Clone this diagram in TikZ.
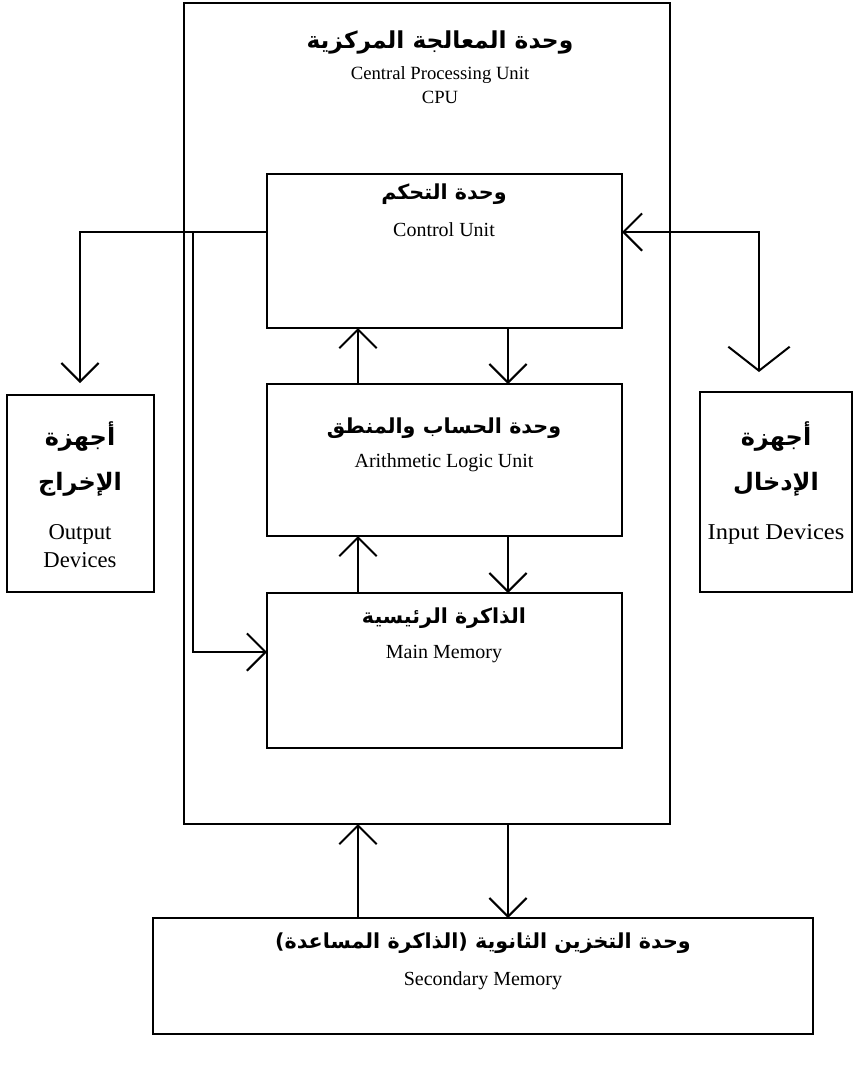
\documentclass[tikz,border=0pt]{standalone}
\usepackage{fontspec}
\setmainfont{Liberation Serif}
\newfontfamily\arabicfont[Script=Arabic]{DejaVu Sans}
\TeXXeTstate=1
\usetikzlibrary{arrows.meta}
\newcommand{\ar}[1]{{\arabicfont\bfseries\beginR #1\endR}}
\begin{document}
\begin{tikzpicture}[x=0.75pt,y=-0.75pt,
  boxline/.style={line width=1.5pt},
  conn/.style={line width=1.5pt},
  vtip/.style={-{Straight Barb[length=14pt,width=28pt,line width=1.5pt]}},
  vtipwide/.style={-{Straight Barb[length=18pt,width=46pt,line width=1.5pt]}},
  eng/.style={font=\fontsize{15}{17}\selectfont},
  engside/.style={font=\fontsize{17}{19}\selectfont},
  arb/.style={font=\fontsize{15.5}{19}\selectfont},
  arbside/.style={font=\fontsize{18}{21}\selectfont}]
\useasboundingbox (0,0) rectangle (855,1072);
% boxes
\draw[boxline] (184,3) rectangle (670,824);
\draw[boxline] (267,174) rectangle (622,328);
\draw[boxline] (267,384) rectangle (622,536);
\draw[boxline] (267,593) rectangle (622,748);
\draw[boxline] (7,395) rectangle (154,592);
\draw[boxline] (700,392) rectangle (852,592);
\draw[boxline] (153,918) rectangle (813,1034);
% named anchors
\coordinate (cpuB1) at (358,824);
\coordinate (cpuB2) at (508,824);
\coordinate (secT1) at (358,918);
\coordinate (secT2) at (508,918);
\coordinate (cuB1) at (358,328);
\coordinate (cuB2) at (508,328);
\coordinate (aluT1) at (358,384);
\coordinate (aluT2) at (508,384);
\coordinate (aluB1) at (358,536);
\coordinate (aluB2) at (508,536);
\coordinate (mmT1) at (358,593);
\coordinate (mmT2) at (508,593);
\coordinate (cuL) at (267,232);
\coordinate (cuR) at (622,232);
\coordinate (split) at (193,232);
\coordinate (mmL) at (267,652);
\coordinate (outT) at (80,383);
\coordinate (inT) at (759,372);
% texts
\node[font=\fontsize{17.5}{21}\selectfont] (t1) at (440,42) {\ar{وحدة المعالجة المركزية}};
\node[font=\fontsize{14}{16}\selectfont] (t2) at (440,75) {Central Processing Unit};
\node[font=\fontsize{14}{16}\selectfont] (t3) at (440,97) {CPU};
\node[arb] (c1) at (444,194) {\ar{وحدة التحكم}};
\node[eng] (c2) at (444,230) {Control Unit};
\node[arb] (a1) at (444,428) {\ar{وحدة الحساب والمنطق}};
\node[eng] (a2) at (444,463) {Arithmetic Logic Unit};
\node[arb] (m1) at (444,618) {\ar{الذاكرة الرئيسية}};
\node[eng] (m2) at (444,654) {Main Memory};
\node[arbside] (o1) at (80,437) {\ar{أجهزة}};
\node[arbside] (o2) at (80,484) {\ar{الإخراج}};
\node[engside] (o3) at (80,534) {Output};
\node[engside] (o4) at (80,560) {Devices};
\node[arbside] (i1) at (776,437) {\ar{أجهزة}};
\node[arbside] (i2) at (776,484) {\ar{الإدخال}};
\node[engside] (i3) at (776,534) {\scalebox{1.08}[1]{Input Devices}};
\node[arb] (s1) at (483,943) {\ar{وحدة التخزين الثانوية (الذاكرة المساعدة)}};
\node[eng] (s2) at (483,981) {Secondary Memory};
% connectors
\draw[conn,vtip] (cuL) -| (outT);
\draw[conn,vtip] (split) |- (mmL);
\draw[conn,vtip] (inT |- cuR) -- (cuR);
\draw[conn,vtipwide] (cuR) -| (inT);
\draw[conn,vtip] (aluT1) -- (cuB1);
\draw[conn,vtip] (cuB2) -- (aluT2);
\draw[conn,vtip] (mmT1) -- (aluB1);
\draw[conn,vtip] (aluB2) -- (mmT2);
\draw[conn,vtip] (secT1) -- (cpuB1);
\draw[conn,vtip] (cpuB2) -- (secT2);
\end{tikzpicture}
\end{document}
